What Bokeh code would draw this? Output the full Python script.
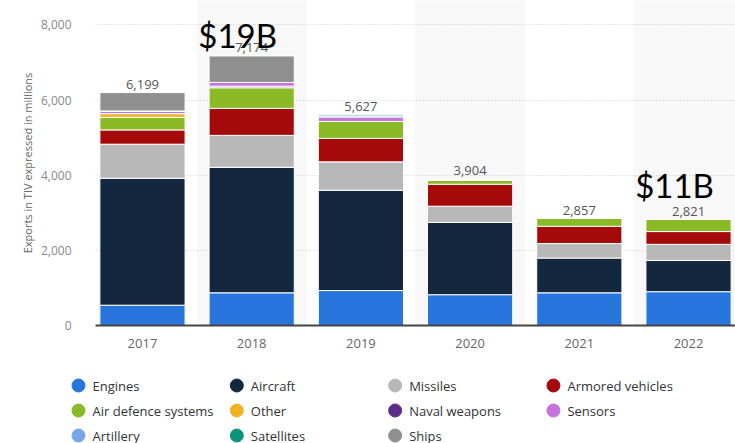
from bokeh.plotting import figure
from bokeh.models import (ColumnDataSource, FactorRange, Range1d, Title,
                          NumeralTickFormatter, SingleIntervalTicker)
from bokeh.core.properties import value
from bokeh.embed import file_html
from bokeh.resources import INLINE

# ---------------- data ----------------
years = ["2017", "2018", "2019", "2020", "2021", "2022"]
series_names = ["Engines", "Aircraft", "Missiles", "Armored vehicles",
                "Air defence systems", "Other", "Naval weapons", "Sensors",
                "Artillery", "Satellites", "Ships"]
engines = [540, 870, 930, 820, 870, 900]
aircraft = [3380, 3340, 2670, 1925, 925, 830]
missiles = [905, 850, 755, 430, 385, 430]
armored_vehicles = [380, 720, 625, 585, 460, 340]
air_defence_systems = [335, 550, 450, 110, 217, 321]
other = [100, 0, 0, 0, 0, 0]
naval_weapons = [0, 40, 0, 0, 0, 0]
sensors = [70, 100, 120, 0, 0, 0]
artillery = [0, 0, 30, 0, 0, 0]
satellites = [0, 0, 47, 0, 0, 0]
ships = [489, 704, 0, 0, 0, 0]
totals = [6199, 7174, 5627, 3904, 2857, 2821]
total_labels = ["6,199", "7,174", "5,627", "3,904", "2,857", "2,821"]
annotation_years = ["2018", "2022"]
annotation_texts = ["$19B", "$11B"]
annotation_levels = [7720, 3730]
y_axis_title = "Exports in TIV expressed in millions"

colors = ["#2876dd", "#13283f", "#b8b8b8", "#a50a0b", "#8aba25", "#efb323",
          "#5d2b88", "#c673dc", "#7aa6e8", "#0d9477", "#8f8f8f"]

series_values = [engines, aircraft, missiles, armored_vehicles, air_defence_systems,
                 other, naval_weapons, sensors, artillery, satellites, ships]

Y_MAX = 8650
LEGEND_COLS = 4

data = {"year": years}
for name, vals in zip(series_names, series_values):
    data[name] = vals
source = ColumnDataSource(data)

p = figure(width=735, height=355,
           x_range=FactorRange(*years, range_padding=-0.0233, range_padding_units="percent"),
           y_range=Range1d(0, Y_MAX),
           output_backend="svg", toolbar_location=None,
           min_border_left=95, min_border_top=0, min_border_right=0, min_border_bottom=30)
p.outline_line_color = None
p.background_fill_color = "white"
p.border_fill_color = "white"

# alternating column shading
p.vbar(x=years[1::2], top=Y_MAX, bottom=0, width=1.0, color="#f8f8f8", level="image")

# stacked bars
p.vbar_stack(series_names, x="year", width=0.78, color=colors, source=source,
             line_color="white", line_width=1)

# total labels
tot_src = ColumnDataSource(dict(year=years, total=totals, label=total_labels))
p.text(x="year", y="total", text="label", source=tot_src, text_align="center",
       text_baseline="alphabetic", y_offset=-8, text_font=value("Open Sans"),
       text_font_size="13px", text_color="#555555")

# big annotations
p.text(x=annotation_years, y=annotation_levels, text=annotation_texts,
       text_align="center", text_baseline="alphabetic", x_offset=-14,
       text_font=value("Lato"), text_font_size="33px", text_color="#000000")

# axes
p.yaxis.ticker = SingleIntervalTicker(interval=2000)
p.yaxis.formatter = NumeralTickFormatter(format="0,0")
p.yaxis.axis_line_color = None
p.yaxis.major_tick_line_color = None
p.yaxis.minor_tick_line_color = None
p.yaxis.major_label_standoff = 18
p.yaxis.major_label_text_font = "Open Sans"
p.yaxis.major_label_text_font_size = "12px"
p.yaxis.major_label_text_color = "#888888"

ytitle = Title(text=y_axis_title, align="center", offset=-12, standoff=6,
               text_font="Open Sans", text_font_size="11px", text_font_style="normal",
               text_color="#666666")
p.add_layout(ytitle, "left")

p.xaxis.axis_line_color = "#444444"
p.xaxis.axis_line_width = 2
p.xaxis.major_tick_line_color = None
p.xaxis.minor_tick_line_color = None
p.xaxis.major_label_standoff = 7
p.xaxis.major_label_text_font = "Open Sans"
p.xaxis.major_label_text_font_size = "13px"
p.xaxis.major_label_text_color = "#666666"

p.xgrid.grid_line_color = None
p.ygrid.grid_line_color = "#cccccc"
p.ygrid.grid_line_dash = "1 2"
p.ygrid.grid_line_width = 1

# ---------------- legend (separate strip) ----------------
leg_src = ColumnDataSource(dict(
    col=[i % LEGEND_COLS for i in range(len(series_names))],
    row=[i // LEGEND_COLS for i in range(len(series_names))],
    name=series_names,
    color=colors,
))
leg = figure(width=735, height=88, x_range=Range1d(-0.4927, 4.150),
             y_range=Range1d(2.32, -1.2), output_backend="svg",
             toolbar_location=None, min_border=0,
             x_axis_location=None, y_axis_location=None)
leg.grid.visible = False
leg.outline_line_color = None
leg.scatter(x="col", y="row", source=leg_src, marker="circle", size=13,
            fill_color="color", line_color="color")
leg.text(x="col", y="row", text="name", source=leg_src, x_offset=14,
         text_align="left", text_baseline="middle", text_font=value("Open Sans"),
         text_font_size="13px", text_color="#333333")

open("out.html", "w").write(file_html([p, leg], INLINE))
